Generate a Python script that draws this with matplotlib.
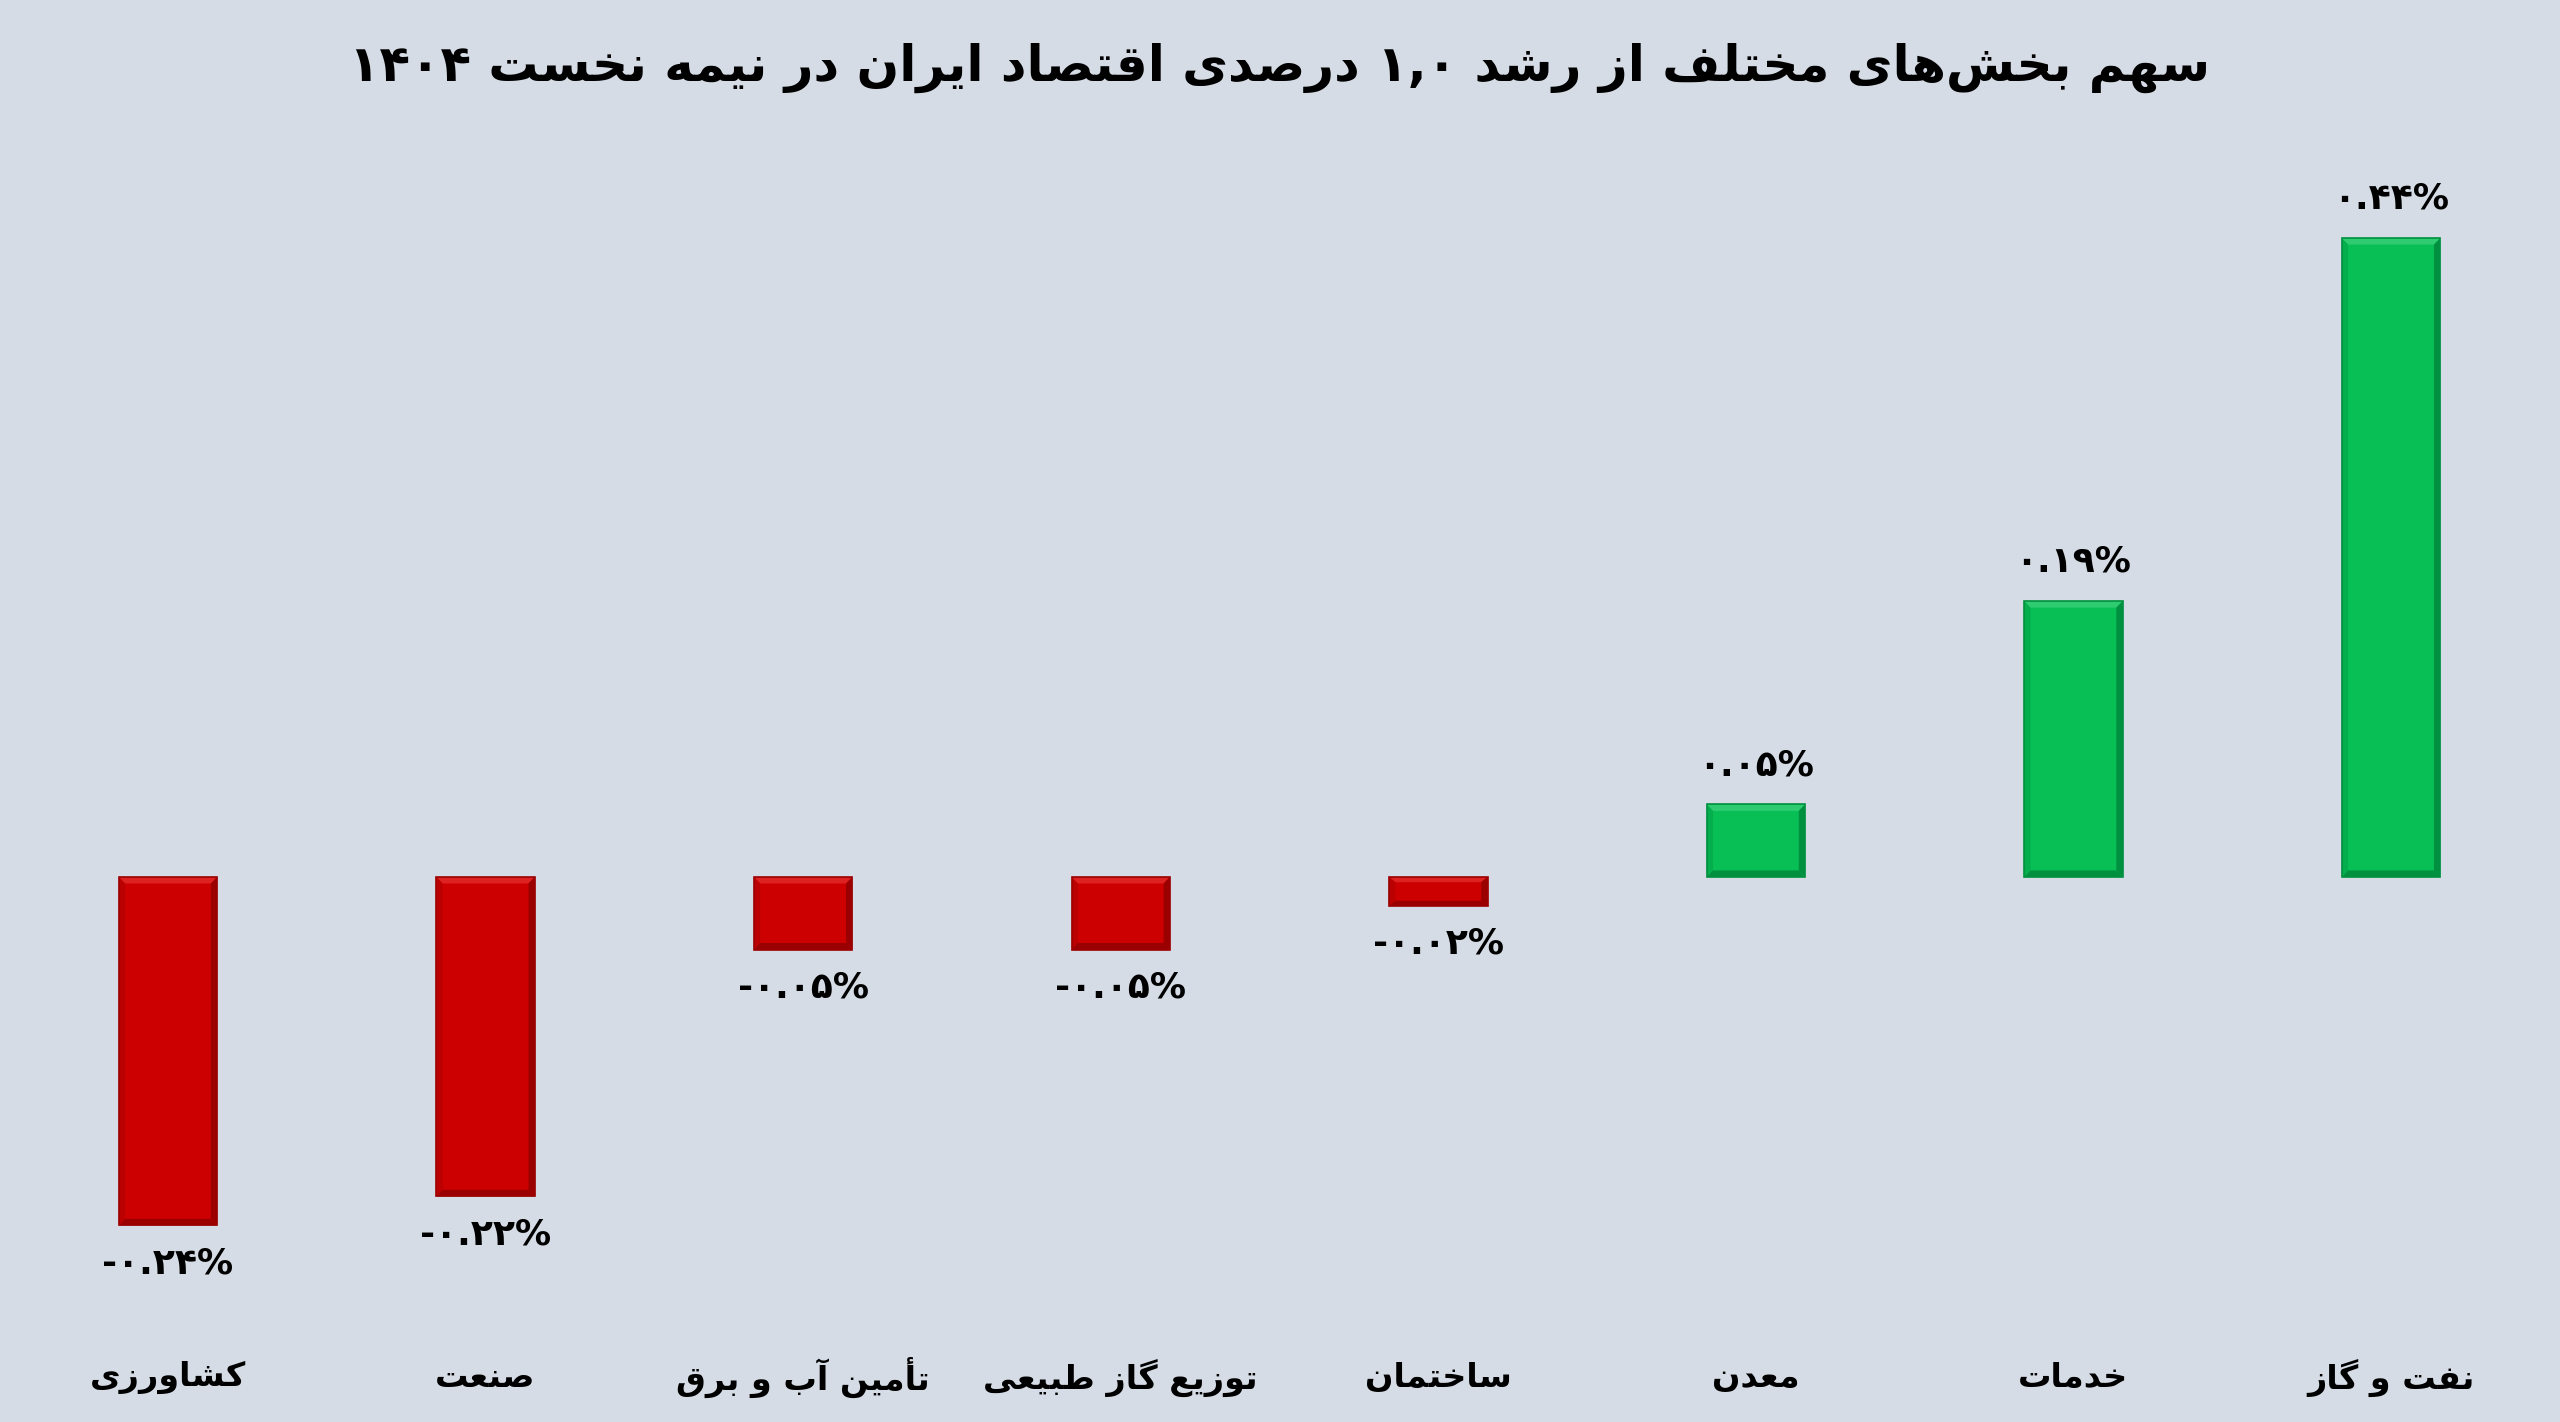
import matplotlib
matplotlib.use('Agg')
import matplotlib.pyplot as plt
from matplotlib.patches import Polygon

title = 'سهم بخش‌های مختلف از رشد ۰,۱ درصدی اقتصاد ایران در نیمه نخست ۱۴۰۴'
sectors = ['کشاورزی', 'صنعت', 'تأمین آب و برق', 'توزیع گاز طبیعی',
           'ساختمان', 'معدن', 'خدمات', 'نفت و گاز']
shares = [-0.24, -0.22, -0.05, -0.05, -0.02, 0.05, 0.19, 0.44]
share_labels = ['-۰.۲۴%', '-۰.۲۲%', '-۰.۰۵%', '-۰.۰۵%', '-۰.۰۲%', '۰.۰۵%', '۰.۱۹%', '۰.۴۴%']

bg = '#D6DCE5'
red, red_light, red_dark = '#CC0000', '#DD2222', '#9A0000'
green, green_light, green_dark = '#08BF55', '#2ECB70', '#00903F'

# Arabic presentation forms: isolated, final, initial, medial (None = right-joining only)
FORMS = {
    'ب': (0xFE8F, 0xFE90, 0xFE91, 0xFE92), 'ت': (0xFE95, 0xFE96, 0xFE97, 0xFE98),
    'ج': (0xFE9D, 0xFE9E, 0xFE9F, 0xFEA0), 'خ': (0xFEA5, 0xFEA6, 0xFEA7, 0xFEA8),
    'س': (0xFEB1, 0xFEB2, 0xFEB3, 0xFEB4), 'ش': (0xFEB5, 0xFEB6, 0xFEB7, 0xFEB8),
    'ص': (0xFEB9, 0xFEBA, 0xFEBB, 0xFEBC), 'ط': (0xFEC1, 0xFEC2, 0xFEC3, 0xFEC4),
    'ع': (0xFEC9, 0xFECA, 0xFECB, 0xFECC), 'ف': (0xFED1, 0xFED2, 0xFED3, 0xFED4),
    'ق': (0xFED5, 0xFED6, 0xFED7, 0xFED8), 'ل': (0xFEDD, 0xFEDE, 0xFEDF, 0xFEE0),
    'م': (0xFEE1, 0xFEE2, 0xFEE3, 0xFEE4), 'ن': (0xFEE5, 0xFEE6, 0xFEE7, 0xFEE8),
    'ه': (0xFEE9, 0xFEEA, 0xFEEB, 0xFEEC), 'ی': (0xFBFC, 0xFBFD, 0xFBFE, 0xFBFF),
    'ک': (0xFB8E, 0xFB8F, 0xFB90, 0xFB91), 'گ': (0xFB92, 0xFB93, 0xFB94, 0xFB95),
    'ا': (0xFE8D, 0xFE8E, None, None), 'آ': (0xFE81, 0xFE82, None, None),
    'أ': (0xFE83, 0xFE84, None, None), 'د': (0xFEA9, 0xFEAA, None, None),
    'ر': (0xFEAD, 0xFEAE, None, None), 'ز': (0xFEAF, 0xFEB0, None, None),
    'و': (0xFEED, 0xFEEE, None, None),
}


def shape(s):
    out = []
    for i, c in enumerate(s):
        if c not in FORMS:
            if c != '\u200c':
                out.append(c)
            continue
        f = FORMS[c]
        prev = s[i - 1] if i > 0 else ''
        nxt = s[i + 1] if i + 1 < len(s) else ''
        join_prev = prev in FORMS and FORMS[prev][2] is not None
        join_next = nxt in FORMS and f[2] is not None
        if join_prev and join_next:
            out.append(chr(f[3]))
        elif join_prev:
            out.append(chr(f[1]))
        elif join_next:
            out.append(chr(f[2]))
        else:
            out.append(chr(f[0]))
    # visual order: reverse, but keep digit runs left to right
    runs, cur = [], ''
    for c in out:
        if c.isdigit():
            cur += c
        else:
            if cur:
                runs.append(cur)
                cur = ''
            runs.append(c)
    if cur:
        runs.append(cur)
    return ''.join(reversed(runs))


plt.rcParams['font.family'] = ['DejaVu Sans']

fig = plt.figure(figsize=(25.6, 14.22), dpi=100, facecolor=bg)
ax = fig.add_axes([0, 0, 1, 1])
ax.set_facecolor(bg)
ax.set_xlim(-0.529, 7.532)
ax.set_ylim(-0.3754, 0.604)

x = list(range(len(sectors)))
colors = [green if v > 0 else red for v in shares]
bars = ax.bar(x, shares, width=0.31, color=colors, edgecolor='none')

# thin bevel on each bar
for b, v in zip(bars, shares):
    x0, w = b.get_x(), b.get_width()
    y0, y1 = sorted([b.get_y(), b.get_y() + b.get_height()])
    dx = 0.02
    dy = min(0.0045, (y1 - y0) * 0.18)
    light = green_light if v > 0 else red_light
    dark = green_dark if v > 0 else red_dark
    tl = (x0, y1); tr = (x0 + w, y1); bl = (x0, y0); br = (x0 + w, y0)
    itl = (x0 + dx, y1 - dy); itr = (x0 + w - dx, y1 - dy)
    ibl = (x0 + dx, y0 + dy); ibr = (x0 + w - dx, y0 + dy)
    ax.add_patch(Polygon([tl, tr, itr, itl], color=light, lw=0))
    ax.add_patch(Polygon([tr, br, ibr, itr], color=dark, lw=0))
    ax.add_patch(Polygon([bl, br, ibr, ibl], color=dark, lw=0))
    ax.add_patch(Polygon([tl, bl, ibl, itl], color=dark, lw=0, alpha=0.35))
    ax.add_patch(plt.Rectangle((x0, y0), w, y1 - y0, fill=False,
                               edgecolor=dark, lw=1.2))

for i, v in enumerate(shares):
    if v > 0:
        ax.text(i, v + 0.027, share_labels[i], ha='center', va='center',
                fontsize=26, fontweight='bold')
    else:
        ax.text(i, v - 0.026, share_labels[i], ha='center', va='center',
                fontsize=26, fontweight='bold')
    ax.text(i, -0.345, shape(sectors[i]), ha='center', va='center',
            fontsize=24, fontweight='bold')

ax.axis('off')

fig.text(0.5, 0.952, shape(title), ha='center', va='center',
         fontsize=36, fontweight='bold')

plt.savefig('out.png', dpi=100, facecolor=bg)
